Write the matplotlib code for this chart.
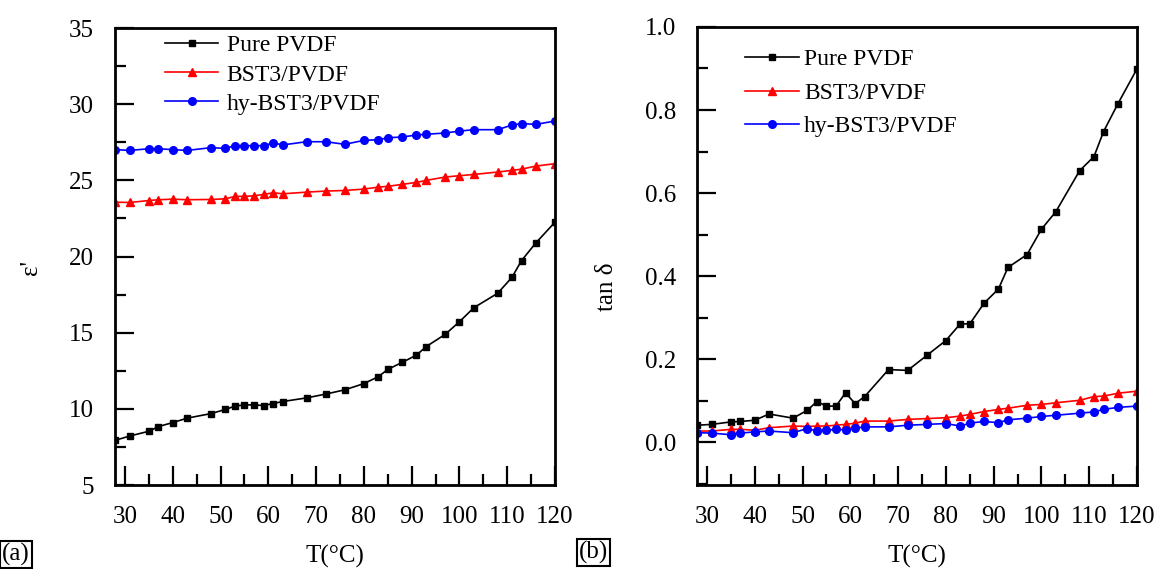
import matplotlib
matplotlib.use("Agg")
import matplotlib.pyplot as plt
from matplotlib.ticker import MultipleLocator

plt.rcParams["font.family"] = ["Liberation Serif", "DejaVu Serif"]

# measurement temperatures (same for every sample)
temp = [28, 31, 35, 37, 40, 43, 48, 51, 53, 55, 57, 59, 61, 63, 68, 72,
        76, 80, 83, 85, 88, 91, 93, 97, 100, 103, 108, 111, 113, 116, 120]

# dielectric constant
eps_pure = [7.94, 8.22, 8.53, 8.84, 9.10, 9.39, 9.69, 9.96, 10.18, 10.26, 10.26,
            10.22, 10.35, 10.48, 10.72, 10.97, 11.25, 11.66, 12.11, 12.59, 13.05,
            13.53, 14.08, 14.89, 15.72, 16.64, 17.59, 18.64, 19.74, 20.90, 22.26]
eps_bst = [23.57, 23.55, 23.68, 23.73, 23.77, 23.73, 23.75, 23.79, 23.95, 23.95,
           23.99, 24.08, 24.19, 24.12, 24.23, 24.30, 24.34, 24.43, 24.56, 24.61,
           24.74, 24.87, 25.00, 25.22, 25.31, 25.39, 25.55, 25.66, 25.74, 25.94, 26.10]
eps_hy = [27.02, 26.97, 27.08, 27.08, 27.02, 26.97, 27.15, 27.10, 27.28, 27.28,
          27.28, 27.28, 27.46, 27.33, 27.54, 27.54, 27.37, 27.63, 27.67, 27.80,
          27.85, 27.98, 28.03, 28.11, 28.24, 28.33, 28.33, 28.64, 28.73, 28.68, 28.90]

# dielectric loss
tan_pure = [0.041, 0.043, 0.049, 0.050, 0.053, 0.068, 0.058, 0.077, 0.098, 0.087,
            0.087, 0.119, 0.093, 0.110, 0.175, 0.173, 0.209, 0.245, 0.285, 0.285,
            0.335, 0.369, 0.421, 0.452, 0.513, 0.555, 0.654, 0.688, 0.748, 0.815, 0.899]
tan_bst = [0.027, 0.027, 0.031, 0.031, 0.029, 0.035, 0.039, 0.038, 0.039, 0.039,
           0.041, 0.043, 0.046, 0.051, 0.051, 0.055, 0.057, 0.059, 0.063, 0.067,
           0.074, 0.079, 0.082, 0.089, 0.091, 0.095, 0.101, 0.110, 0.111, 0.118, 0.123]
tan_hy = [0.023, 0.022, 0.018, 0.022, 0.025, 0.027, 0.023, 0.033, 0.027, 0.029,
          0.031, 0.030, 0.034, 0.037, 0.037, 0.041, 0.043, 0.045, 0.039, 0.046,
          0.050, 0.047, 0.054, 0.058, 0.062, 0.065, 0.070, 0.073, 0.079, 0.084, 0.087]

labels = ["Pure PVDF", "BST3/PVDF", "hy-BST3/PVDF"]
FS = 18

fig = plt.figure(figsize=(11.57, 5.69), dpi=100)
ax1 = fig.add_axes([0.0994, 0.1476, 0.3803, 0.803])
ax2 = fig.add_axes([0.6024, 0.1476, 0.3803, 0.805])

styles = [dict(color="black", marker="s", ms=5),
          dict(color="red", marker="^", ms=6),
          dict(color="blue", marker="o", ms=5.5)]

for ax, series in [(ax1, [eps_pure, eps_bst, eps_hy]), (ax2, [tan_pure, tan_bst, tan_hy])]:
    for ys, st, lab in zip(series, styles, labels):
        ax.plot(temp, ys, lw=1.2, label=lab, **st)
    ax.set_xlim(27.9, 120)
    ax.xaxis.set_major_locator(MultipleLocator(10))
    ax.xaxis.set_minor_locator(MultipleLocator(5))
    ax.tick_params(which="both", direction="in", top=False, right=False,
                   width=1.6, labelsize=FS, pad=15)
    ax.tick_params(which="major", length=14)
    ax.tick_params(which="minor", length=8)
    for sp in ax.spines.values():
        sp.set_linewidth(2.0)
    ax.set_xlabel("T(°C)", fontsize=FS)
    ax.xaxis.set_label_coords(0.5, -0.13)

ax1.set_ylim(5, 35)
ax1.yaxis.set_major_locator(MultipleLocator(5))
ax1.yaxis.set_minor_locator(MultipleLocator(2.5))
ax1.set_ylabel("ε'", fontsize=FS)
ax1.yaxis.set_label_coords(-0.165, 0.475)

ax2.set_ylim(-0.103, 1.0)
ax2.yaxis.set_major_locator(MultipleLocator(0.2))
ax2.yaxis.set_minor_locator(MultipleLocator(0.1))
ax2.yaxis.set_major_formatter(plt.FormatStrFormatter("%.1f"))
ax2.set_ylabel("tan δ", fontsize=FS)
ax2.yaxis.set_label_coords(-0.18, 0.433)

ax1.legend(loc="upper left", bbox_to_anchor=(0.114, 0.985), frameon=False,
           fontsize=17, handlelength=2.25, handletextpad=0.35,
           labelspacing=0.32, borderpad=0, borderaxespad=0)
ax2.legend(loc="upper left", bbox_to_anchor=(0.109, 0.952), frameon=False,
           fontsize=17, handlelength=2.3, handletextpad=0.2,
           labelspacing=0.5, borderpad=0, borderaxespad=0)

box = dict(boxstyle="square,pad=0.08", fc="white", ec="black", lw=1.5)
fig.text(0.014, 0.026, "(a)", fontsize=FS, ha="center", va="center", bbox=box)
fig.text(0.513, 0.029, "(b)", fontsize=FS, ha="center", va="center", bbox=box)

fig.savefig("out.png", dpi=100)
